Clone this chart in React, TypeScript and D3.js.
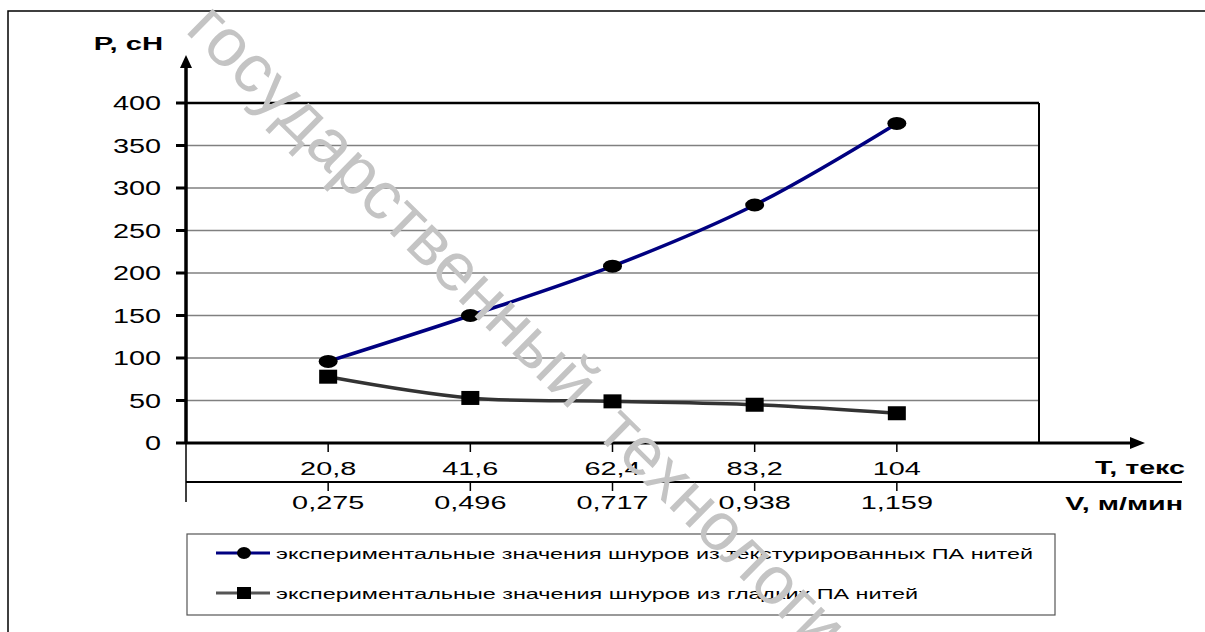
import React from "react";
import * as d3 from "d3";

const tCategories = ["20,8", "41,6", "62,4", "83,2", "104"];
const vCategories = ["0,275", "0,496", "0,717", "0,938", "1,159"];
const yTicks = [0, 50, 100, 150, 200, 250, 300, 350, 400];
const texturedValues = [96, 150, 208, 280, 376];
const smoothValues = [78, 53, 49, 45, 35];
const seriesNames = [
  "экспериментальные значения шнуров из текстурированных ПА нитей",
  "экспериментальные значения шнуров из гладких ПА нитей",
];
const yAxisTitle = "P, сН";
const tAxisTitle = "T, текс";
const vAxisTitle = "V, м/мин";
const watermarkText = "государственный технологический университет";

const FONT = "'Liberation Sans', Arial, sans-serif";

function Label(props: {
  x: number;
  y: number;
  anchor?: string;
  fs?: number;
  sx?: number;
  bold?: boolean;
  children: any;
}) {
  const { x, y, anchor = "middle", fs = 18, sx = 1.6, bold = false, children } = props;
  return (
    <text
      transform={`translate(${x},${y}) scale(${sx},1)`}
      textAnchor={anchor}
      fontSize={fs}
      fontWeight={bold ? "bold" : "normal"}
      fontFamily={FONT}
      fill="#000"
    >
      {children}
    </text>
  );
}

export default function App() {
  const x = d3.scaleLinear().domain([0, 6]).range([186, 1039]);
  const y = d3.scaleLinear().domain([0, 400]).range([443, 103]);
  const idx = tCategories.map((_, i) => i + 1);

  const line = d3
    .line<number>()
    .x((_, i) => x(i + 1))
    .y((d) => y(d))
    .curve(d3.curveCatmullRom.alpha(0.5));

  const axisLeft = x(0);
  const plotRight = x(6);

  return (
    <svg
      width={1205}
      height={632}
      style={{ position: "absolute", left: 0, top: 0, background: "#fff" }}
    >
      <rect x={0} y={0} width={1205} height={632} fill="#fff" />
      {/* outer frame */}
      <path d="M8,632 V11 H1205" fill="none" stroke="#000" strokeWidth={1.5} />

      {/* gridlines */}
      {yTicks
        .filter((v) => v > 0 && v < 400)
        .map((v) => (
          <line key={v} x1={axisLeft} x2={plotRight} y1={y(v)} y2={y(v)} stroke="#808080" strokeWidth={1.5} />
        ))}
      <line x1={axisLeft} x2={plotRight} y1={y(400)} y2={y(400)} stroke="#000" strokeWidth={2.5} />
      <line x1={plotRight} x2={plotRight} y1={y(400)} y2={y(0)} stroke="#000" strokeWidth={2} />

      {/* y axis */}
      <line x1={axisLeft} x2={axisLeft} y1={66} y2={y(0)} stroke="#000" strokeWidth={3.5} />
      <line x1={axisLeft} x2={axisLeft} y1={y(0)} y2={502} stroke="#000" strokeWidth={1.5} />
      <path d={`M${axisLeft},55 L${axisLeft - 6},68 L${axisLeft + 6},68 Z`} fill="#000" />
      {yTicks.map((v) => (
        <g key={v}>
          <line x1={axisLeft - 10} x2={axisLeft} y1={y(v)} y2={y(v)} stroke="#000" strokeWidth={3} />
          <Label x={161} y={y(v) + 7} anchor="end" fs={19.5} sx={1.48}>
            {String(v)}
          </Label>
        </g>
      ))}
      <Label x={163} y={50} anchor="end" bold fs={18.5} sx={1.58}>
        {yAxisTitle}
      </Label>

      {/* x axis */}
      <line x1={axisLeft} x2={1132} y1={y(0)} y2={y(0)} stroke="#000" strokeWidth={3} />
      <path d={`M1145,${y(0)} L1130,${y(0) - 6} L1130,${y(0) + 6} Z`} fill="#000" />
      <line x1={axisLeft} x2={1182} y1={482} y2={482} stroke="#000" strokeWidth={2} />
      {idx.map((k, i) => (
        <g key={k}>
          <line x1={x(k)} x2={x(k)} y1={y(0)} y2={y(0) + 9} stroke="#000" strokeWidth={1.5} />
          <line x1={x(k)} x2={x(k)} y1={482} y2={491} stroke="#000" strokeWidth={1.5} />
          <Label x={x(k)} y={474.5} fs={18.5} sx={1.56}>
            {tCategories[i]}
          </Label>
          <Label x={x(k)} y={508.5} fs={18.5} sx={1.56}>
            {vCategories[i]}
          </Label>
        </g>
      ))}
      <Label x={1185} y={473.5} anchor="end" bold fs={18.5} sx={1.55}>
        {tAxisTitle}
      </Label>
      <Label x={1183} y={509.5} anchor="end" bold fs={18.5} sx={1.55}>
        {vAxisTitle}
      </Label>

      {/* series */}
      <path d={line(texturedValues) || ""} fill="none" stroke="#000080" strokeWidth={3.5} />
      <path d={line(smoothValues) || ""} fill="none" stroke="#333333" strokeWidth={3.5} />
      {texturedValues.map((v, i) => (
        <ellipse key={"c" + i} cx={x(i + 1)} cy={y(v)} rx={9.5} ry={6.5} fill="#000" />
      ))}
      {smoothValues.map((v, i) => (
        <rect key={"s" + i} x={x(i + 1) - 9} y={y(v) - 7} width={18} height={14} fill="#000" />
      ))}

      {/* legend */}
      <rect x={187} y={534} width={868} height={81} fill="#fff" stroke="#555" strokeWidth={1.2} />
      <line x1={216} x2={270} y1={553} y2={553} stroke="#000080" strokeWidth={3} />
      <ellipse cx={244} cy={553} rx={7} ry={6} fill="#000" />
      <text x={276} y={558.5} fontSize={15} fontFamily={FONT} textLength={757} lengthAdjust="spacingAndGlyphs">
        {seriesNames[0]}
      </text>
      <line x1={216} x2={270} y1={593} y2={593} stroke="#555" strokeWidth={3} />
      <rect x={237} y={587} width={14} height={12} fill="#000" />
      <text x={276} y={598.5} fontSize={15} fontFamily={FONT} textLength={642} lengthAdjust="spacingAndGlyphs">
        {seriesNames[1]}
      </text>

      {/* watermark */}
      <text
        transform="translate(184,31) rotate(44.5)"
        fontSize={68}
        fontFamily={FONT}
        wordSpacing={14}
        fill="#c4c4c4"
      >
        {watermarkText}
      </text>
    </svg>
  );
}
